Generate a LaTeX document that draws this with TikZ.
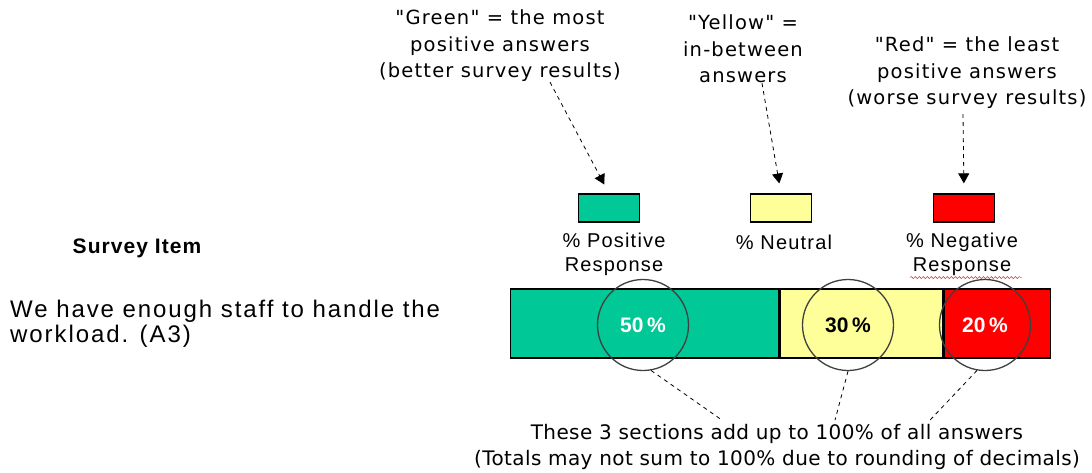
\documentclass[tikz,border=0pt]{standalone}
\usepackage{fontspec}
\setmainfont{Liberation Sans}
\newfontfamily\notefont{DejaVu Sans}
\definecolor{main}{RGB}{0,200,150}
\definecolor{second}{RGB}{255,255,153}
\definecolor{third}{RGB}{255,0,0}
\usetikzlibrary{
	arrows.meta,
	positioning,
	decorations.pathmorphing
}
\tikzset{
  % arrow
	cstdra/.style    ={-{Triangle[length=10pt,width=11pt]}, thick, dash pattern=on 4pt off 4pt, shorten >=10pt},
	cstdline/.style  ={thick, dash pattern=on 4pt off 4pt},
  % node
	cstnote/.style   ={align=center, inner sep=0pt, font=\notefont\fontsize{19.5}{26.5}\selectfont\addfontfeature{LetterSpace=6}},
	cstbnote/.style  ={align=center, inner sep=0pt, font=\notefont\fontsize{20}{26}\selectfont\addfontfeature{LetterSpace=2}},
	cstkey/.style    ={draw=black, line width=1.3pt, minimum width=61pt, minimum height=28pt, inner sep=0pt},
	cstlabel/.style  ={align=center, inner sep=0pt, font=\fontsize{20}{24}\selectfont\addfontfeature{LetterSpace=6}},
	cstseg/.style    ={draw=black, line width=1.3pt, minimum height=69pt, inner sep=0pt},
	cstring/.style   ={circle, draw=black!75, line width=1.3pt, minimum size=91pt, inner sep=0pt,
	                   font=\bfseries\fontsize{21}{21}\selectfont},
	cstitem/.style   ={align=left, inner sep=0pt, font=\fontsize{24}{25}\selectfont\addfontfeature{LetterSpace=8}}
}

\begin{document}
\begin{tikzpicture}[x=1pt,y=-1pt]
	\useasboundingbox (0,0) rectangle (1092,472);
	% notes on top
	\node[cstnote] (gnote) at (500,46) {"Green" = the most\\positive answers\\(better survey results)};
	\node[cstnote] (ynote) at (743,49) {"Yellow" =\\in-between\\answers};
	\node[cstnote] (rnote) at (967,73) {"Red" = the least\\positive answers\\(worse survey results)};
	% legend
	\node[cstkey,fill=main]   (gkey) at (609,208) {};
	\node[cstkey,fill=second] (ykey) at (781,208) {};
	\node[cstkey,fill=third]  (rkey) at (964,208) {};
	\node[cstlabel] (glabel) at (614,254) {\% Positive\\Response};
	\node[cstlabel] (ylabel) at (784,242) {\% Neutral};
	\node[cstlabel] (rlabel) at (962,254) {\% Negative\\Response};
	\draw[third,decorate,decoration={snake,amplitude=1pt,segment length=4pt}]
		([xshift=-52pt,yshift=-2pt]rlabel.south) -- ([xshift=60pt,yshift=-2pt]rlabel.south);
	\draw[cstdra] ([xshift=50pt]gnote.south) -- (gkey.north);
	\draw[cstdra] ([xshift=19pt]ynote.south) -- (ykey.north);
	\draw[cstdra] ([xshift=-4pt,yshift=-5pt]rnote.south) -- (rkey.north);
	% survey item
	\node[font=\bfseries\fontsize{21}{24}\selectfont\addfontfeature{LetterSpace=5}] (head) at (137,248) {Survey Item};
	\node[cstitem,anchor=west] (item) at (10,324) {We have enough staff to handle the\\workload. (A3)};
	% bar
	\node[cstseg,fill=main,minimum width=268pt,anchor=west] (pos) at (510,323.5) {};
	\node[cstseg,fill=second,minimum width=163pt,right=0pt of pos] (neu) {};
	\node[cstseg,fill=third,minimum width=106pt,right=0pt of neu] (neg) {};
	\node[cstring,text=white] (pring) at (643,325) {50\,\%};
	\node[cstring,text=black] (nring) at (848,325) {30\,\%};
	\node[cstring,text=white] (rring) at (985,325) {20\,\%};
	% bottom note
	\node[cstbnote] (bnote) at (777,447) {These 3 sections add up to 100\% of all answers\\(Totals may not sum to 100\% due to rounding of decimals)};
	\draw[cstdline] (pring.-80) -- ([xshift=-55pt,yshift=4pt]bnote.north);
	\draw[cstdline] (nring.south) -- ([xshift=58pt,yshift=4pt]bnote.north);
	\draw[cstdline] (rring.-100) -- ([xshift=153pt,yshift=4pt]bnote.north);
\end{tikzpicture}
\end{document}
